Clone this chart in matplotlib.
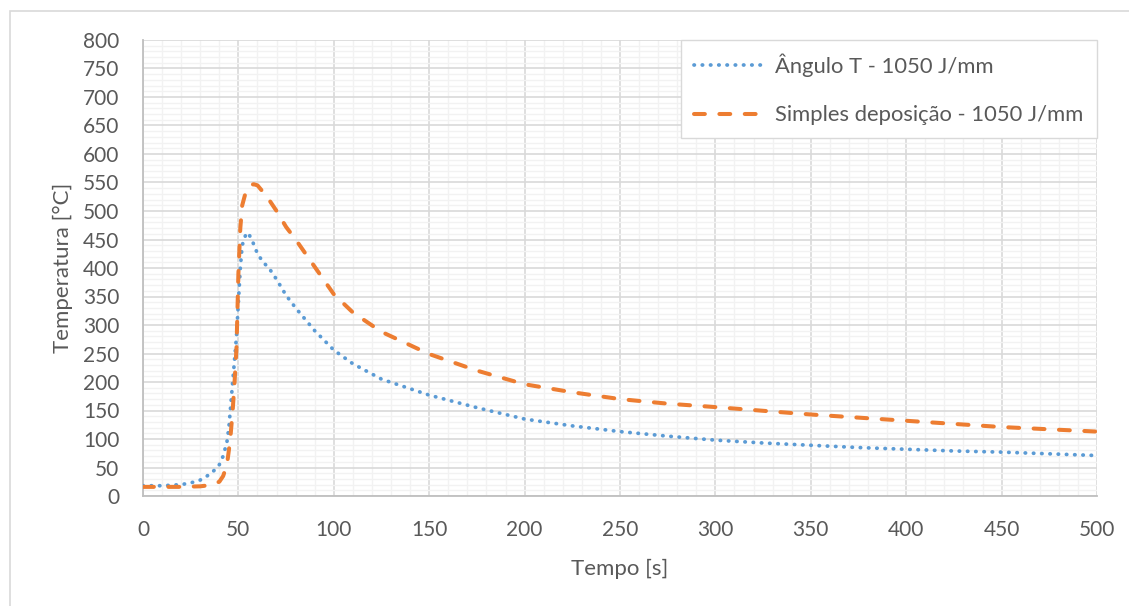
import matplotlib
matplotlib.use("Agg")
import matplotlib.pyplot as plt
from matplotlib.patches import Rectangle
from matplotlib.ticker import MultipleLocator

# Ângulo T - 1050 J/mm
t_angulo = [0, 10, 20, 25, 30, 35, 38, 40, 42, 44, 45, 46, 47, 48, 49, 50, 51, 52, 54, 55,
            57, 60, 63, 66, 70, 75, 80, 90, 100, 110, 125, 150, 175, 200, 225, 250, 275,
            300, 325, 350, 375, 400, 425, 450, 475, 500]
temp_angulo = [18, 18, 20, 23, 28, 38, 47, 55, 70, 95, 120, 160, 200, 240, 280, 340, 400, 440,
               460, 462, 450, 425, 410, 400, 380, 352, 330, 290, 256, 232, 205, 177, 155, 135,
               123, 113, 105, 98, 93, 89, 85, 82, 79, 77, 74, 71]

# Simples deposição - 1050 J/mm
t_simples = [0, 10, 20, 30, 35, 40, 42, 44, 45, 46, 47, 48, 49, 50, 51, 52, 54, 56, 58, 60,
             65, 70, 75, 80, 90, 100, 110, 125, 150, 175, 200, 225, 250, 275, 300, 350, 400,
             450, 500]
temp_simples = [16, 16, 16, 17, 19, 25, 35, 55, 80, 110, 150, 200, 260, 390, 470, 510, 535,
                545, 547, 545, 525, 500, 472, 450, 402, 354, 322, 288, 249, 220, 196, 182,
                170, 162, 156, 143, 132, 121, 113]

labels = ["Ângulo T - 1050 J/mm", "Simples deposição - 1050 J/mm"]

plt.rcParams["font.family"] = ["Lato", "DejaVu Sans"]
text_color = "#595959"

fig = plt.figure(figsize=(11.29, 6.06), dpi=100)
# chart-area border (right and bottom edges fall outside the image)
fig.patches.append(Rectangle((10 / 1129, -0.05), 1.2, 0.05 + (606 - 11) / 606,
                             transform=fig.transFigure, fill=False,
                             edgecolor="#D9D9D9", linewidth=1.2))
ax = fig.add_axes([143 / 1129, 110 / 606, 954 / 1129, 456 / 606])

ax.plot(t_angulo, temp_angulo, color="#5B9BD5", linewidth=2.7,
        linestyle=(0, (0.1, 2.1)), dash_capstyle="round", label=labels[0], zorder=3)
ax.plot(t_simples, temp_simples, color="#ED7D31", linewidth=2.9,
        linestyle=(0, (2.7, 3.6)), dash_capstyle="round", label=labels[1], zorder=3)

ax.set_xlim(0, 500)
ax.set_ylim(0, 800)
ax.xaxis.set_major_locator(MultipleLocator(50))
ax.yaxis.set_major_locator(MultipleLocator(50))
ax.xaxis.set_minor_locator(MultipleLocator(10))
ax.yaxis.set_minor_locator(MultipleLocator(10))
ax.grid(which="minor", color="#F2F2F2", linewidth=1.0)
ax.grid(which="major", color="#D9D9D9", linewidth=1.2)
ax.set_axisbelow(True)
ax.tick_params(which="both", length=0, labelsize=15, colors=text_color)
ax.tick_params(axis="x", pad=17)
ax.tick_params(axis="y", pad=17)

for side in ["top", "right"]:
    ax.spines[side].set_visible(False)
for side in ["left", "bottom"]:
    ax.spines[side].set_color("#BFBFBF")
    ax.spines[side].set_linewidth(1.3)

ax.set_xlabel("Tempo [s]", fontsize=16, color=text_color, labelpad=14)
ax.set_ylabel("Temperatura [°C]", fontsize=16, color=text_color, labelpad=7)

leg = ax.legend(loc="upper right", fontsize=15.8, handlelength=3.2, handletextpad=0.5,
                labelspacing=1.3, borderpad=0.6, borderaxespad=0, frameon=True,
                fancybox=False, framealpha=1)
leg.get_frame().set_edgecolor("#D9D9D9")
leg.get_frame().set_linewidth(1)
for txt in leg.get_texts():
    txt.set_color(text_color)

fig.savefig("out.png", dpi=100)
